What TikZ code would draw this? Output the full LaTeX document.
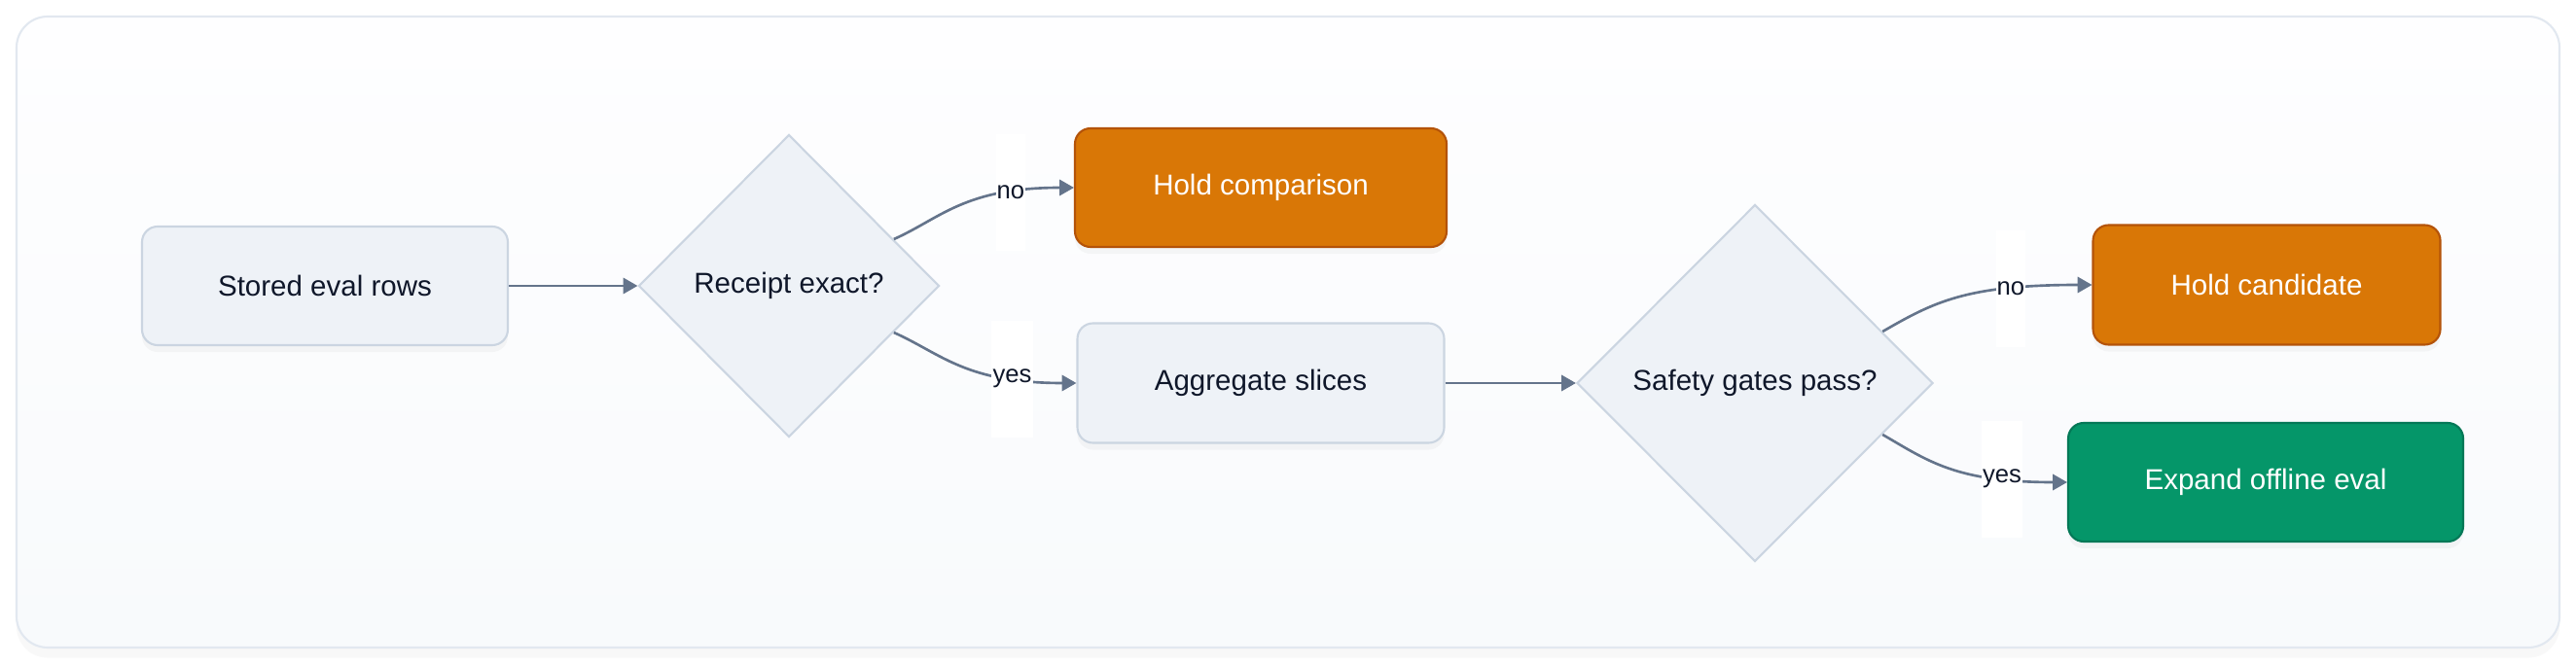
\documentclass[tikz,border=0pt]{standalone}
\usepackage{fontspec}
\setmainfont{Liberation Sans}
\usepackage{tikz}
\usepackage{xcolor}
\usetikzlibrary{shapes.geometric, arrows.meta, shadows}

\definecolor{frametop}{HTML}{FEFEFF}
\definecolor{framefill}{HTML}{F8FAFC}
\definecolor{frameline}{HTML}{E2E8F0}
\definecolor{stepfill}{HTML}{EEF2F7}
\definecolor{stepline}{HTML}{CBD5E1}
\definecolor{holdfill}{HTML}{D97706}
\definecolor{holdline}{HTML}{B45309}
\definecolor{gofill}{HTML}{059669}
\definecolor{goline}{HTML}{047857}
\definecolor{edgecol}{HTML}{64748B}
\definecolor{inkcol}{HTML}{0F172A}

\tikzset{
    nodefont/.style={font=\fontsize{8.4}{10}\selectfont},
    soft/.style={drop shadow={opacity=0.06, shadow xshift=0pt, shadow yshift=-2pt}},
    stepbox/.style={draw=stepline, fill=stepfill, line width=0.6pt, rounded corners=0.16cm,
        text=inkcol, nodefont, soft, minimum height=1.22cm, inner sep=0pt},
    holdbox/.style={stepbox, draw=holdline, fill=holdfill, text=white},
    gobox/.style={stepbox, draw=goline, fill=gofill, text=white},
    check/.style={diamond, aspect=1, draw=stepline, fill=stepfill, line width=0.6pt,
        text=inkcol, nodefont, inner sep=0pt},
    flow/.style={draw=edgecol, line width=0.75pt, >={Triangle[length=4.2pt, width=4.6pt]}},
    swing/.style={out looseness=0.7, in looseness=1.5},
    answer/.style={fill=white, text=inkcol, font=\fontsize{7.3}{9}\selectfont,
        inner xsep=0.3pt, inner ysep=0pt, minimum height=1.2cm}
}

\begin{document}
\begin{tikzpicture}
        \useasboundingbox (0,0) rectangle (26.48,6.84);
        \fill[white] (0,0) rectangle (26.48,6.84);
        \node (frame) at (13.24, 3.425) [draw=frameline, top color=frametop, bottom color=framefill, line width=0.6pt,
            rounded corners=0.32cm, minimum width=26.14cm, minimum height=6.49cm,
            drop shadow={opacity=0.05, shadow xshift=0pt, shadow yshift=-3pt}] {};

        \node (stored) at (3.34, 3.90) [stepbox, minimum width=3.76cm] {Stored eval rows};
        \node (receipt) at (8.11, 3.90) [check, minimum width=3.09cm, minimum height=3.11cm] {Receipt exact?};
        \node (holdcmp) at (12.96, 4.91) [holdbox, minimum width=3.82cm] {Hold comparison};
        \node (aggregate) at (12.96, 2.90) [stepbox, minimum width=3.77cm, minimum height=1.23cm] {Aggregate slices};
        \node (safety) at (18.04, 2.90) [check, minimum width=3.66cm, minimum height=3.67cm] {Safety gates pass?};
        \node (holdcand) at (23.30, 3.91) [holdbox, minimum width=3.57cm, minimum height=1.23cm] {Hold candidate};
        \node (expand) at (23.29, 1.88) [gobox, minimum width=4.06cm] {Expand offline eval};

        \draw[flow, ->] (stored) -- (receipt);
        \draw[flow, ->] (receipt.24) to[out=24, in=180, swing] node[pos=0.77, answer] {no} (holdcmp.west);
        \draw[flow, ->] (receipt.-24) to[out=-24, in=180, swing] node[pos=0.77, answer] {yes} (aggregate.west);
        \draw[flow, ->] (aggregate) -- (safety);
        \draw[flow, ->] (safety.22) to[out=30, in=180, swing] node[pos=0.74, answer] {no} (holdcand.west);
        \draw[flow, ->] (safety.-22) to[out=-30, in=180, swing] node[pos=0.77, answer] {yes} (expand.west);
    \end{tikzpicture}
\end{document}
